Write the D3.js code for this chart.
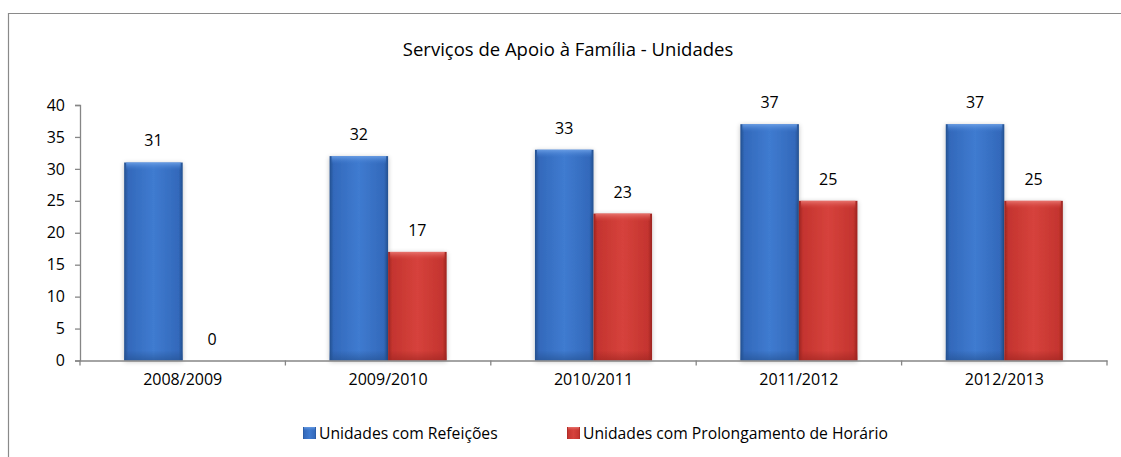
<!DOCTYPE html>
<html>
<head>
<meta charset="utf-8">
<script src="https://cdn.jsdelivr.net/npm/d3@7"></script>
<style>
  html, body { margin: 0; padding: 0; background: #fff; }
  svg { display: block; }
  text { font-family: "Open Sans", "Noto Sans", sans-serif; fill: #000; }
</style>
</head>
<body>
<svg id="chart" width="1121" height="457"></svg>
<script>
const title = "Serviços de Apoio à Família - Unidades";
const categories = ["2008/2009", "2009/2010", "2010/2011", "2011/2012", "2012/2013"];
const seriesNames = ["Unidades com Refeições", "Unidades com Prolongamento de Horário"];
const refeicoes = [31, 32, 33, 37, 37];
const prolongamento = [0, 17, 23, 25, 25];
const yTicks = [0, 5, 10, 15, 20, 25, 30, 35, 40];

const seriesValues = [refeicoes, prolongamento];
const palette = [
  { edge: "#24508f", mid: "#3369bb", light: "#3f7bd0", top: "#6da0e6" },
  { edge: "#9c2420", mid: "#c4342f", light: "#d6423c", top: "#ea7a74" }
];

const svg = d3.select("#chart");

// outer chart border
svg.append("path")
  .attr("d", "M8.5,470 V13.5 H1130")
  .attr("fill", "none")
  .attr("stroke", "#8a8a8a")
  .attr("stroke-width", 1.2);

// title
svg.append("text")
  .attr("x", 568).attr("y", 56)
  .attr("text-anchor", "middle")
  .style("font-size", "18.5px")
  .text(title);

const x = d3.scaleBand().domain(categories).range([80, 1107]).paddingInner(0).paddingOuter(0);
const y = d3.scaleLinear().domain([0, 40]).range([360.5, 105]);
const groupW = x.bandwidth() * 0.57;
const xs = d3.scaleBand().domain(seriesNames).range([-groupW / 2, groupW / 2]).padding(0);

// gradients
const defs = svg.append("defs");
palette.forEach((p, i) => {
  const g = defs.append("linearGradient").attr("id", "grad" + i)
    .attr("x1", "0").attr("x2", "1").attr("y1", "0").attr("y2", "0");
  [[0, p.edge], [0.07, p.mid], [0.5, p.light], [0.93, p.mid], [1, p.edge]].forEach(([o, c]) =>
    g.append("stop").attr("offset", o).attr("stop-color", c));
  const gt = defs.append("linearGradient").attr("id", "gradTop" + i)
    .attr("x1", "0").attr("x2", "0").attr("y1", "0").attr("y2", "1");
  gt.append("stop").attr("offset", 0).attr("stop-color", p.top).attr("stop-opacity", 0.9);
  gt.append("stop").attr("offset", 1).attr("stop-color", p.light).attr("stop-opacity", 0);
  const gb = defs.append("linearGradient").attr("id", "gradBot" + i)
    .attr("x1", "0").attr("x2", "0").attr("y1", "0").attr("y2", "1");
  gb.append("stop").attr("offset", 0).attr("stop-color", p.edge).attr("stop-opacity", 0);
  gb.append("stop").attr("offset", 1).attr("stop-color", p.edge).attr("stop-opacity", 0.6);
});
const shadow = defs.append("filter").attr("id", "shadow").attr("x", "-20%").attr("y", "-10%").attr("width", "140%").attr("height", "120%");
shadow.append("feGaussianBlur").attr("in", "SourceAlpha").attr("stdDeviation", 2.5).attr("result", "b");
shadow.append("feOffset").attr("in", "b").attr("dx", 0).attr("dy", 1).attr("result", "o");
shadow.append("feComponentTransfer").attr("in", "o").attr("result", "s")
  .append("feFuncA").attr("type", "linear").attr("slope", 0.25);
const fm = shadow.append("feMerge");
fm.append("feMergeNode").attr("in", "s");
fm.append("feMergeNode").attr("in", "SourceGraphic");

// bars
const barData = [];
categories.forEach((c, ci) => {
  seriesNames.forEach((s, si) => {
    barData.push({ cat: c, series: s, si, value: seriesValues[si][ci] });
  });
});

const bars = svg.append("g").selectAll("g.bar").data(barData.filter(d => d.value > 0)).join("g").attr("class", "bar");
bars.each(function(d) {
  const g = d3.select(this);
  const bx = x(d.cat) + x.bandwidth() / 2 + xs(d.series);
  const bw = xs.bandwidth();
  const by = y(d.value);
  const bh = y(0) - by;
  g.append("rect").attr("x", bx).attr("y", by).attr("width", bw).attr("height", bh)
    .attr("fill", "url(#grad" + d.si + ")").attr("filter", "url(#shadow)");
  g.append("rect").attr("x", bx + 2).attr("y", by).attr("width", bw - 4).attr("height", Math.min(8, bh))
    .attr("fill", "url(#gradTop" + d.si + ")");
  g.append("rect").attr("x", bx).attr("y", y(0) - Math.min(10, bh)).attr("width", bw).attr("height", Math.min(10, bh))
    .attr("fill", "url(#gradBot" + d.si + ")");
});

// value labels
svg.append("g").selectAll("text").data(barData).join("text")
  .attr("x", d => x(d.cat) + x.bandwidth() / 2 + xs(d.series) + xs.bandwidth() / 2)
  .attr("y", d => y(d.value) - 16)
  .attr("text-anchor", "middle")
  .style("font-size", "16px")
  .text(d => d.value);

// y axis
const yAxis = svg.append("g").attr("transform", "translate(80,0)")
  .call(d3.axisLeft(y).tickValues(yTicks).tickSize(5).tickPadding(10));
yAxis.select(".domain").attr("stroke", "#868686").attr("stroke-width", 1.3);
yAxis.selectAll(".tick line").attr("stroke", "#868686").attr("stroke-width", 1.3);
yAxis.selectAll(".tick text").style("font-size", "16px").attr("font-family", null);

// x axis
const xAxis = svg.append("g").attr("transform", "translate(0," + y(0) + ")")
  .call(d3.axisBottom(x).tickSize(0).tickSizeOuter(0).tickPadding(13));
xAxis.select(".domain").attr("stroke", "#868686").attr("stroke-width", 1.3);
xAxis.selectAll(".tick text").style("font-size", "16px").attr("font-family", null);
// tick marks at category boundaries
const bounds = categories.map(c => x(c)).concat([x(categories[categories.length - 1]) + x.bandwidth()]);
xAxis.selectAll("line.bound").data(bounds).join("line").attr("class", "bound")
  .attr("x1", d => d).attr("x2", d => d).attr("y1", 0).attr("y2", 5)
  .attr("stroke", "#868686").attr("stroke-width", 1.3);

// legend
const legendX = [303, 567];
const legend = svg.append("g").selectAll("g").data(seriesNames).join("g")
  .attr("transform", (d, i) => "translate(" + legendX[i] + ",427)");
legend.append("rect").attr("width", 13).attr("height", 12)
  .attr("fill", (d, i) => "url(#grad" + i + ")");
legend.append("rect").attr("x", 1).attr("width", 11).attr("height", 4)
  .attr("fill", (d, i) => "url(#gradTop" + i + ")");
legend.append("text").attr("x", 16).attr("y", 12)
  .style("font-size", "15.7px").text(d => d);
</script>
</body>
</html>
